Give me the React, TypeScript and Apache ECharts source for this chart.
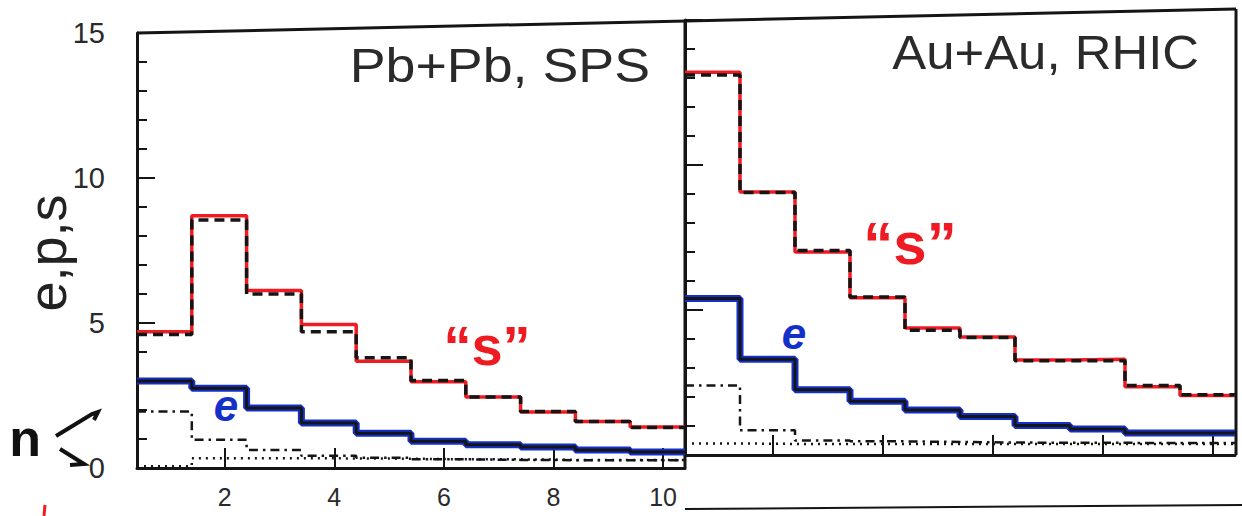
import React, { useEffect, useRef } from "react";
import * as echarts from "echarts";

// bin edges along the x axis (shared by both panels)
const binEdges = [0.4, 1.4, 2.4, 3.4, 4.4, 5.4, 6.4, 7.4, 8.4, 9.4, 10.4];
const xTickValues = [2, 4, 6, 8, 10];
const yTickLabels = [0, 5, 10, 15];

// Pb+Pb, SPS
const spsS = [4.7, 8.7, 6.12, 4.95, 3.68, 2.97, 2.45, 1.93, 1.6, 1.41];
const spsSModel = [4.6, 8.55, 6.0, 4.7, 3.8, 3.02, 2.45, 1.95, 1.6, 1.4];
const spsE = [3.0, 2.75, 2.07, 1.55, 1.2, 0.92, 0.8, 0.72, 0.62, 0.55];
const spsP = [1.95, 0.97, 0.62, 0.42, 0.35, 0.3, 0.28, 0.27, 0.27, 0.27];
const spsN = [0.06, 0.34, 0.34, 0.33, 0.32, 0.3, 0.3, 0.28, 0.28, 0.28];

// Au+Au, RHIC
const rhicS = [13.2, 9.07, 7.0, 5.42, 4.38, 4.07, 3.28, 3.3, 2.35, 2.05];
const rhicSModel = [13.1, 9.05, 7.05, 5.45, 4.3, 4.05, 3.25, 3.25, 2.4, 2.08];
const rhicE = [5.4, 3.3, 2.25, 1.85, 1.55, 1.33, 1.02, 0.9, 0.76, 0.76];
const rhicP = [2.4, 0.85, 0.5, 0.47, 0.45, 0.43, 0.42, 0.42, 0.41, 0.41];
const rhicN = [0.4, 0.38, 0.38, 0.38, 0.38, 0.38, 0.38, 0.38, 0.38, 0.38];

const FONT = "'Liberation Sans', Arial, sans-serif";
const RED = "#ee1c22";
const BLUE = "#1530c8";
const BLACK = "#151515";

function steps(vals: number[]) {
  return binEdges.map((x, i) => [x, vals[Math.min(i, vals.length - 1)]]);
}

function stepSeries(vals: number[], idx: number, color: string, width: number, type: any, z: number) {
  return {
    type: "line",
    step: "end",
    xAxisIndex: idx,
    yAxisIndex: idx,
    data: steps(vals),
    symbol: "none",
    silent: true,
    z,
    lineStyle: { color, width, type },
  };
}

function makeX(idx: number, showLabels: boolean) {
  return {
    type: "value",
    gridIndex: idx,
    min: 0.4,
    max: 10.4,
    axisLine: { show: true, lineStyle: { color: BLACK, width: 3 } },
    axisTick: { show: true, inside: true, length: 20, customValues: xTickValues, lineStyle: { color: BLACK, width: 2 } },
    axisLabel: {
      show: showLabels,
      customValues: xTickValues,
      fontSize: 25,
      color: "#2a2a2a",
      fontFamily: FONT,
      margin: 16,
    },
    splitLine: { show: false },
  };
}

function makeY(idx: number, showLabels: boolean) {
  return {
    type: "value",
    gridIndex: idx,
    min: 0,
    max: 15,
    interval: 5,
    axisLine: { show: true, lineStyle: { color: BLACK, width: 3 } },
    axisTick: { show: true, inside: true, length: 18, lineStyle: { color: BLACK, width: 2 } },
    minorTick: { show: true, splitNumber: 5, length: 10, lineStyle: { color: BLACK, width: 2 } },
    axisLabel: {
      show: showLabels,
      fontSize: 29,
      color: "#2a2a2a",
      fontFamily: FONT,
      margin: 32,
      formatter: (v: number) => (yTickLabels.indexOf(v) >= 0 ? String(v) : ""),
    },
    splitLine: { show: false },
    minorSplitLine: { show: false },
  };
}

export default function App() {
  const ref = useRef<HTMLDivElement>(null);
  useEffect(() => {
    document.body.style.margin = "0";
    const chart = echarts.init(ref.current!, null, { renderer: "svg" });
    chart.setOption({
      animation: false,
      backgroundColor: "#ffffff",
      grid: [
        { left: 137, top: 33, width: 548, height: 435 },
        { left: 685, top: 20, width: 550, height: 435 },
      ],
      xAxis: [makeX(0, true), makeX(1, false)],
      yAxis: [makeY(0, true), makeY(1, false)],
      series: [
        stepSeries(spsN, 0, BLACK, 2.5, [2, 5], 2),
        stepSeries(spsP, 0, BLACK, 2.5, [9, 5, 2.5, 5], 3),
        stepSeries(spsE, 0, BLUE, 7, "solid", 4),
        stepSeries(spsE, 0, BLACK, 3, "solid", 5),
        stepSeries(spsS, 0, RED, 3.5, "solid", 6),
        stepSeries(spsSModel, 0, BLACK, 3.5, [10, 6], 7),
        stepSeries(rhicN, 1, BLACK, 2.5, [2, 5], 2),
        stepSeries(rhicP, 1, BLACK, 2.5, [9, 5, 2.5, 5], 3),
        stepSeries(rhicE, 1, BLUE, 7, "solid", 4),
        stepSeries(rhicE, 1, BLACK, 3, "solid", 5),
        stepSeries(rhicS, 1, RED, 3.5, "solid", 6),
        stepSeries(rhicSModel, 1, BLACK, 3.5, [10, 6], 7),
      ],
      graphic: [
        // frame: slanted top edge, divider and right edge
        { type: "line", shape: { x1: 137, y1: 33, x2: 1236, y2: 9 }, style: { stroke: BLACK, lineWidth: 3 } },
        { type: "line", shape: { x1: 685, y1: 21, x2: 685, y2: 468 }, style: { stroke: BLACK, lineWidth: 3 } },
        { type: "line", shape: { x1: 1236, y1: 9, x2: 1236, y2: 455 }, style: { stroke: BLACK, lineWidth: 3 } },
        {
          type: "text",
          x: 47,
          y: 253,
          rotation: Math.PI / 2,
          style: { text: "e,p,s", fontSize: 54, fontFamily: FONT, fill: "#222", align: "center", verticalAlign: "middle" },
        },
        {
          type: "text",
          x: 650,
          y: 66,
          scaleX: 1.12,
          style: { text: "Pb+Pb, SPS", fontSize: 48, fontFamily: FONT, fill: "#2a2a2a", align: "right", verticalAlign: "middle" },
        },
        {
          type: "text",
          x: 1199,
          y: 52,
          scaleX: 1.06,
          style: { text: "Au+Au, RHIC", fontSize: 48, fontFamily: FONT, fill: "#2a2a2a", align: "right", verticalAlign: "middle" },
        },
        {
          type: "text",
          x: 487,
          y: 345,
          style: { text: "\u201Cs\u201D", fontSize: 56, fontWeight: "bold", fontFamily: FONT, fill: RED, align: "center", verticalAlign: "middle" },
        },
        {
          type: "text",
          x: 910,
          y: 243,
          style: { text: "\u201Cs\u201D", fontSize: 60, fontWeight: "bold", fontFamily: FONT, fill: RED, align: "center", verticalAlign: "middle" },
        },
        {
          type: "text",
          x: 226,
          y: 405,
          style: { text: "e", fontSize: 44, fontStyle: "italic", fontWeight: "bold", fontFamily: FONT, fill: BLUE, align: "center", verticalAlign: "middle" },
        },
        {
          type: "text",
          x: 794,
          y: 333,
          style: { text: "e", fontSize: 44, fontStyle: "italic", fontWeight: "bold", fontFamily: FONT, fill: BLUE, align: "center", verticalAlign: "middle" },
        },
        {
          type: "text",
          x: 25,
          y: 438,
          style: { text: "n", fontSize: 52, fontWeight: "bold", fontFamily: FONT, fill: "#111", align: "center", verticalAlign: "middle" },
        },
        {
          type: "polyline",
          shape: { points: [[56, 436], [92, 414], [98, 412], [94, 420]] },
          style: { stroke: "#111", lineWidth: 4, fill: null },
        },
        {
          type: "polyline",
          shape: { points: [[60, 449], [84, 464], [70, 465]] },
          style: { stroke: "#111", lineWidth: 4, fill: null },
        },
        {
          type: "line",
          shape: { x1: 45, y1: 505, x2: 44, y2: 516 },
          style: { stroke: RED, lineWidth: 3 },
        },
        {
          type: "line",
          shape: { x1: 685, y1: 509, x2: 1242, y2: 505 },
          style: { stroke: BLACK, lineWidth: 2 },
        },
      ],
    });
    return () => chart.dispose();
  }, []);
  return <div ref={ref} style={{ position: "fixed", left: 0, top: 0, width: 1242, height: 516 }} />;
}
